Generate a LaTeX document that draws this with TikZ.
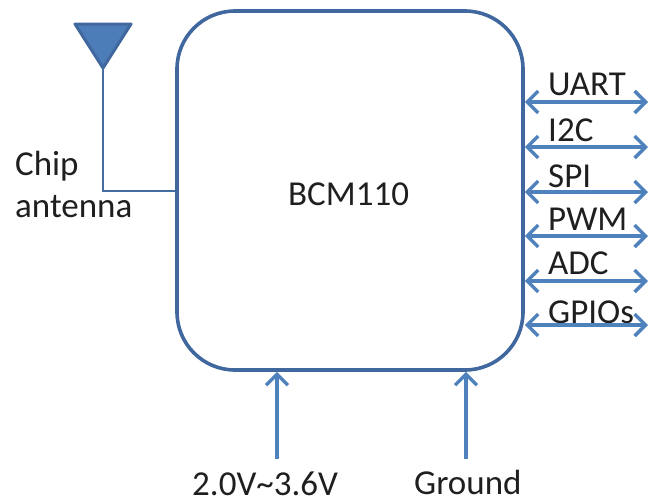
\documentclass[tikz,border=0pt]{standalone}
\usepackage{fontspec}
\setmainfont{Carlito}
\usetikzlibrary{arrows.meta}
\definecolor{boxblue}{RGB}{65,104,158}
\definecolor{arrowblue}{RGB}{79,129,189}
\tikzset{
  x=1pt,y=-1pt,
  lbl/.style={font=\fontsize{35}{35}\selectfont,text=black!88,inner sep=0pt,anchor=base west},
  barb/.tip={Straight Barb[length=11pt,width=22pt,line width=3.4pt]},
  arr/.style={draw=arrowblue,line width=3.4pt,-barb},
  biarr/.style={draw=arrowblue,line width=3.4pt,barb-barb},
  wire/.style={draw=boxblue!80!arrowblue,line width=2.6pt},
}
\begin{document}
\begin{tikzpicture}
\useasboundingbox (0,0) rectangle (649,504);
\node[draw=boxblue,line width=3.6pt,rounded corners=58pt,minimum width=346pt,minimum height=359pt,inner sep=0pt] (chip) at (350,190.5) {};
\node[lbl] (name) at (288,205) {BCM110};
% antenna
\fill[arrowblue!85!boxblue,draw=boxblue,line width=3pt,line join=round] (75,24) -- (131,24) -- (103,68) -- cycle;
\coordinate (anttip) at (103,68);
\coordinate (bend) at (103,191);
\draw[wire] (anttip) -- (bend) -- (chip.west |- bend);
\node[lbl] (chiptxt) at (15,175) {Chip};
\node[lbl] (anttxt) at (15,217) {antenna};
% right buses
\foreach \n/\y/\t/\ty in {a/102/UART/95,b/147/I2C/141,c/192/SPI/187,d/236/PWM/230,e/281/ADC/274,f/325/GPIOs/323}{
  \coordinate (r\n) at (648,\y);
  \node[lbl] (t\n) at (548,\ty) {\t};
  \draw[biarr] (chip.east |- r\n) -- (r\n);
}
% bottom
\coordinate (p1) at (277,459);
\coordinate (p2) at (466,459);
\draw[arr] (p1) -- (chip.south -| p1);
\draw[arr] (p2) -- (chip.south -| p2);
\node[lbl] (pwr) at (192,495) {2.0V\textasciitilde3.6V};
\node[lbl] (gnd) at (414,494) {Ground};
\end{tikzpicture}
\end{document}
